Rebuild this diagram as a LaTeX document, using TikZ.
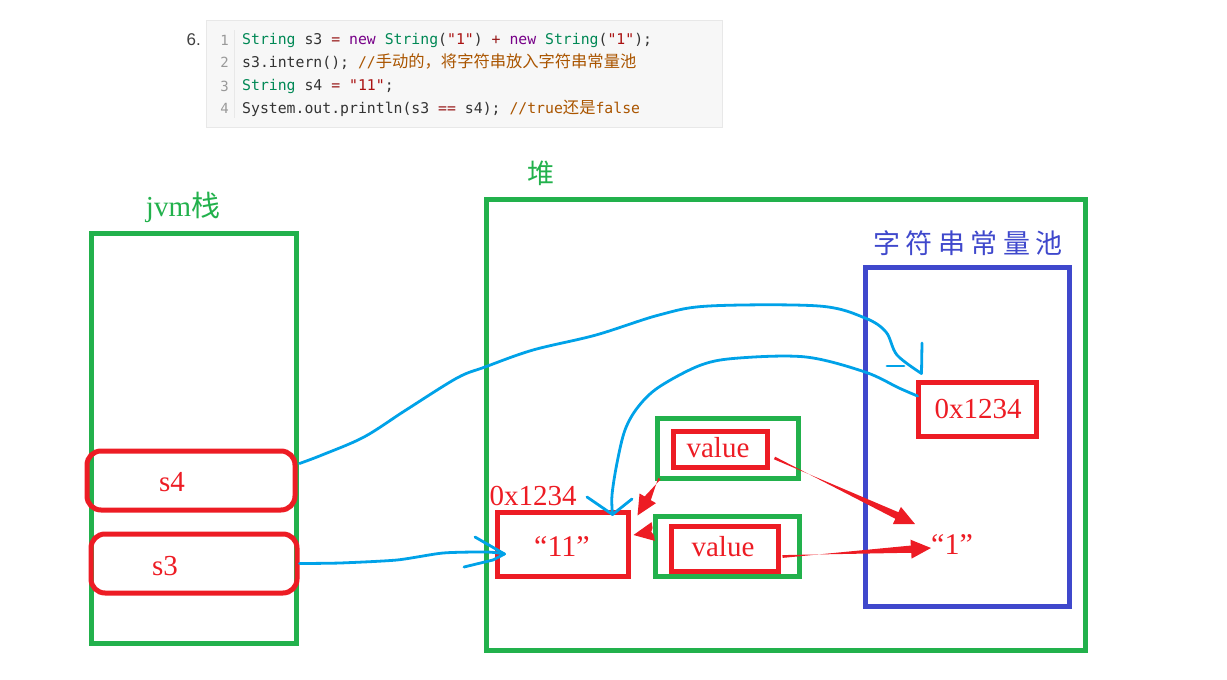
\documentclass[tikz,border=0pt]{standalone}
\usepackage{fontspec}
\setmainfont{Liberation Serif}
\newfontfamily\cjk{Noto Sans CJK SC}
\newfontfamily\cjkc{Noto Sans CJK SC}[Scale=1.1]
\newfontfamily\monof{DejaVu Sans Mono}
\newfontfamily\sansf{Liberation Sans}
\usetikzlibrary{arrows.meta,calc}
\definecolor{gr}{HTML}{22B14C}
\definecolor{rd}{HTML}{ED1C24}
\definecolor{bl}{HTML}{3F48CC}
\definecolor{cy}{HTML}{00A2E8}
\definecolor{cmtype}{HTML}{008855}
\definecolor{cmkw}{HTML}{770088}
\definecolor{cmstr}{HTML}{AA1111}
\definecolor{cmop}{HTML}{981A1A}
\definecolor{cmcom}{HTML}{AA5500}
\definecolor{cmtxt}{HTML}{333333}
\definecolor{codebg}{HTML}{F7F7F7}
\definecolor{codeln}{HTML}{E8E8E8}
\definecolor{lnum}{HTML}{999999}
\newcommand\jtype[1]{\textcolor{cmtype}{#1}}
\newcommand\jkw[1]{\textcolor{cmkw}{#1}}
\newcommand\jstr[1]{\textcolor{cmstr}{#1}}
\newcommand\jop[1]{\textcolor{cmop}{#1}}
\newcommand\jcom[1]{\textcolor{cmcom}{#1}}
% tapered red arrow from coordinate #1 to coordinate #2
\newcommand\redarr[2]{%
  \coordinate (hb) at ($(#2)!20pt!(#1)$);
  \fill[rd] ($(#1)!1.4pt!90:(#2)$) -- ($(hb)!3.6pt!-90:(#2)$) -- ($(hb)!9.5pt!-90:(#2)$) -- (#2)
    -- ($(hb)!9.5pt!90:(#2)$) -- ($(hb)!3.6pt!90:(#2)$) -- ($(#1)!1.4pt!-90:(#2)$) -- cycle;}
\begin{document}
\begin{tikzpicture}[x=1pt,y=-1pt,
  codetext/.style={anchor=west,inner sep=0pt,text=cmtxt,font=\monof\fontsize{14.8}{16}\selectfont},
  lnumtext/.style={anchor=east,inner sep=0pt,text=lnum,font=\monof\fontsize{14}{16}\selectfont},
  gbox/.style={draw=gr,line width=5pt,inner sep=0pt},
  rbox/.style={draw=rd,line width=5pt,inner sep=0pt},
  bbox/.style={draw=bl,line width=5pt,inner sep=0pt},
  rtxt/.style={text=rd,inner sep=0pt,font=\fontsize{29}{29}\selectfont},
  bcurve/.style={draw=cy,line width=2.8pt,line cap=round,line join=round}]
\useasboundingbox (0,0) rectangle (1227,680);

% code block
\node[draw=codeln,fill=codebg,line width=1pt,minimum width=516pt,minimum height=107pt,anchor=north west,inner sep=0pt] (code) at (206,20) {};
\draw[codeln,line width=1pt] (234,30) -- (234,118);
\node[anchor=east,inner sep=0pt,text=black!75,font=\sansf\fontsize{17}{18}\selectfont] (six) at (201,40) {6.};
\node[lnumtext] (n1) at (229,40) {1};
\node[lnumtext] (n2) at (229,62) {2};
\node[lnumtext] (n3) at (229,86) {3};
\node[lnumtext] (n4) at (229,108) {4};
\node[codetext] (l1) at (242,40) {\jtype{String} s3 \jop{=} \jkw{new} \jtype{String}(\jstr{"1"}) \jop{+} \jkw{new} \jtype{String}(\jstr{"1"});};
\node[codetext] (l2) at (242,62) {s3.intern(); \jcom{//{\cjkc 手动的，将字符串放入字符串常量池}}};
\node[codetext] (l3) at (242,86) {\jtype{String} s4 \jop{=} \jstr{"11"};};
\node[codetext] (l4) at (242,108) {System.out.println(s3 \jop{==} s4); \jcom{//true{\cjkc 还是}false}};

% jvm stack
\node[text=gr,inner sep=0pt,font=\fontsize{29}{29}\selectfont] (jvmlabel) at (183,207) {jvm{\cjk 栈}};
\node[gbox,minimum width=205pt,minimum height=410pt] (jvm) at (193.5,438) {};
\node[draw=rd,line width=5pt,rounded corners=14pt,minimum width=208pt,minimum height=59pt,inner sep=0pt] (s4) at (191,480.5) {};
\node[rtxt] (s4t) at (172,482) {s4};
\node[draw=rd,line width=5pt,rounded corners=14pt,minimum width=206pt,minimum height=59pt,inner sep=0pt] (s3) at (194,563.5) {};
\node[rtxt] (s3t) at (165,566) {s3};

% heap
\node[text=gr,inner sep=0pt,font=\cjk\fontsize{27}{27}\selectfont] (heaplabel) at (541,173) {堆};
\node[gbox,minimum width=599pt,minimum height=451pt] (heap) at (785.5,425) {};

% string pool
\node[text=bl,inner sep=0pt,font=\cjk\fontsize{27}{27}\selectfont] (poollabel) at (968,243) {字\hspace{5.5pt}符\hspace{5.5pt}串\hspace{5.5pt}常\hspace{5.5pt}量\hspace{5.5pt}池};
\node[bbox,minimum width=204pt,minimum height=339pt] (pool) at (967,436.5) {};
\node[rbox,minimum width=118pt,minimum height=54pt] (addr) at (977,409) {};
\node[rtxt] (addrt) at (978,409) {0x1234};
\node[rtxt,font=\fontsize{30}{30}\selectfont] (one) at (952,545) {“1”};

% value objects
\node[gbox,minimum width=141pt,minimum height=60pt] (v1o) at (727.5,448) {};
\node[rbox,minimum width=94pt,minimum height=36pt] (v1i) at (720,449) {};
\node[rtxt] (v1t) at (718,448) {value};
\node[gbox,minimum width=144pt,minimum height=60pt] (v2o) at (727,546) {};
\node[rbox,minimum width=107pt,minimum height=45pt] (v2i) at (724.5,548.5) {};
\node[rtxt] (v2t) at (723,547) {value};

% "11" object
\node[rbox,minimum width=131pt,minimum height=64pt] (e11) at (562.5,544) {};
\node[rtxt,font=\fontsize{30}{30}\selectfont] (e11t) at (562,547) {“11”};
\node[rtxt] (e11addr) at (533,496) {0x1234};

% red arrows
\coordinate (a1s) at ($(v1o.south west)+(5,-2)$);
\coordinate (a1e) at ($(e11.north east)+(7,6)$);
\redarr{a1s}{a1e}
\coordinate (a2s) at ($(v2o.west)+(-2,-14)$);
\coordinate (a2e) at ($(e11.east)+(3,-9)$);
\redarr{a2s}{a2e}
\coordinate (a3s) at ($(v1i.east)+(5,9)$);
\coordinate (a3e) at ($(one.west)+(-16,-21)$);
\redarr{a3s}{a3e}
\coordinate (a4s) at ($(v2i.east)+(2,8)$);
\coordinate (a4e) at ($(one.west)+(0,3)$);
\redarr{a4s}{a4e}

% blue curves
\coordinate (c1end) at ($(addr.north west)+(6,-6)$);
\draw[bcurve] plot[smooth,tension=0.55] coordinates {($(s4.east)+(2,-17)$) (322,455) (364,437) (406,410) (457,378) (485,367) (533,350) (596,335) (659,315) (709,306) (819,306) (865,318) (886,332) (897,355) (c1end)};
\draw[bcurve] (c1end) -- (922,343);
\draw[bcurve] (887,366) -- (904,366);

\coordinate (c2end) at ($(e11.north east)+(-18,5)$);
\draw[bcurve] plot[smooth,tension=0.55] coordinates {($(addr.west)+(2,-13)$) (899,388) (865,372) (806,357) (739,358) (701,365) (659,387) (638,407) (625,430) (617,463) (612,495) (c2end)};
\draw[bcurve] (587,497) -- (c2end) -- (632,499);

\coordinate (c3end) at ($(e11.west)+(10,10)$);
\draw[bcurve] plot[smooth,tension=0.4] coordinates {(s3.east) (340,563) (397,560) (443,553) (487,552) (c3end)};
\draw[bcurve] (475,537) -- (c3end);
\draw[bcurve] (464,567) -- (493,560) -- (c3end);
\end{tikzpicture}
\end{document}
